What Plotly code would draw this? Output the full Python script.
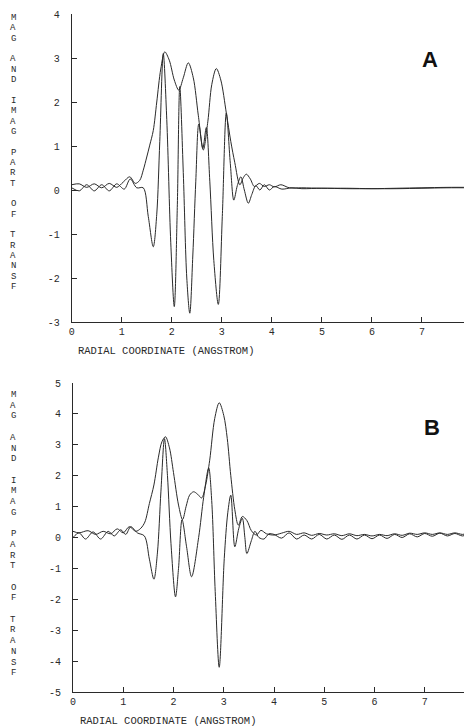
import plotly.graph_objects as go

# ---------------- data ----------------
# Panel A : magnitude (envelope) and imaginary part of the transform
r_mag_A = [0.00, 0.15, 0.30, 0.45, 0.60, 0.75, 0.90, 1.03, 1.16, 1.27, 1.36, 1.43, 1.50, 1.56, 1.63, 1.70, 1.78,
           1.86, 1.95, 2.05, 2.14, 2.23, 2.33, 2.43, 2.53, 2.63, 2.72, 2.80, 2.89, 2.98, 3.09, 3.18, 3.26,
           3.36, 3.43, 3.49, 3.57, 3.65, 3.75, 3.85, 3.95, 4.05, 4.18, 4.35, 4.60, 5.00, 5.50, 6.00, 6.50,
           7.00, 7.50, 8.00]
mag_A = [0.12, 0.14, 0.06, 0.14, 0.05, 0.15, 0.06, 0.18, 0.30, 0.15, 0.22, 0.45, 0.75, 1.02, 1.35, 2.00, 2.75,
         3.14, 2.95, 2.50, 2.27, 2.55, 2.89, 2.55, 1.70, 0.91, 1.55, 2.40, 2.76, 2.50, 1.75, 1.10, 0.62,
         0.12, 0.28, 0.36, 0.25, 0.08, 0.15, 0.08, 0.12, 0.07, 0.12, 0.05, 0.05, 0.04, 0.04, 0.03, 0.03,
         0.04, 0.05, 0.05]

r_im_A = [0.00, 0.15, 0.30, 0.45, 0.60, 0.75, 0.90, 1.05, 1.17, 1.30, 1.43, 1.53, 1.63, 1.70, 1.76, 1.83,
          1.90, 1.98, 2.05, 2.11, 2.16, 2.23, 2.30, 2.36, 2.42, 2.48, 2.54, 2.62, 2.69, 2.76, 2.84, 2.93,
          3.01, 3.09, 3.17, 3.24, 3.31, 3.38, 3.45, 3.53, 3.60, 3.68, 3.76, 3.85, 3.95, 4.05, 4.20, 4.40,
          4.60, 5.00, 5.50, 6.00, 6.50, 7.00, 7.50, 8.00]
im_A = [0.05, -0.02, 0.12, -0.02, 0.12, -0.02, 0.14, 0.02, 0.25, 0.05, 0.05, -0.60, -1.29, -0.55, 1.10, 3.10,
        1.60, -1.20, -2.65, -0.40, 2.35, 0.40, -2.00, -2.80, -1.50, 0.20, 1.50, 0.95, 1.42, 0.20, -1.60, -2.60,
        -0.60, 1.75, 0.60, -0.23, 0.10, 0.30, 0.00, -0.30, -0.10, 0.10, 0.00, 0.12, 0.00, 0.08, 0.02, 0.05,
        0.03, 0.04, 0.03, 0.03, 0.04, 0.05, 0.06, 0.06]

# Panel B
r_mag_B = [0.00, 0.12, 0.30, 0.45, 0.60, 0.75, 0.88, 1.00, 1.12, 1.25, 1.35, 1.43, 1.52, 1.61, 1.70, 1.77,
           1.84, 1.92, 2.00, 2.10, 2.18, 2.25, 2.32, 2.40, 2.48, 2.56, 2.64, 2.72, 2.82, 2.91, 3.00, 3.07,
           3.14, 3.22, 3.29, 3.37, 3.46, 3.55, 3.65, 3.74, 3.85, 4.00, 4.15, 4.30, 4.45, 4.60, 4.75, 4.90,
           5.05, 5.20, 5.35, 5.50, 5.65, 5.80, 5.95, 6.10, 6.25, 6.40, 6.55, 6.70, 6.85, 7.00, 7.15, 7.30,
           7.45, 7.60, 7.75, 7.90, 8.00]
mag_B = [0.20, 0.15, 0.22, 0.10, 0.20, 0.12, 0.28, 0.15, 0.35, 0.20, 0.30, 0.50, 1.10, 1.70, 2.60, 3.10,
         3.26, 2.90, 2.10, 1.05, 0.58, 1.00, 1.37, 1.48, 1.40, 1.28, 1.70, 2.50, 3.85, 4.36, 3.95, 3.20,
         2.00, 0.90, 0.40, 0.68, 0.55, 0.22, 0.08, 0.23, 0.12, 0.08, 0.14, 0.20, 0.10, 0.15, 0.07, 0.13,
         0.08, 0.12, 0.06, 0.12, 0.06, 0.10, 0.05, 0.10, 0.06, 0.12, 0.07, 0.14, 0.10, 0.15, 0.10, 0.15,
         0.10, 0.15, 0.10, 0.14, 0.12]

r_im_B = [0.00, 0.12, 0.25, 0.40, 0.55, 0.70, 0.82, 0.95, 1.05, 1.15, 1.28, 1.42, 1.52, 1.61, 1.68, 1.75,
          1.82, 1.88, 1.95, 2.04, 2.10, 2.17, 2.26, 2.36, 2.50, 2.60, 2.70, 2.76, 2.83, 2.91, 3.01, 3.08,
          3.14, 3.22, 3.30, 3.37, 3.42, 3.46, 3.55, 3.62, 3.70, 3.80, 3.90, 4.00, 4.15, 4.30, 4.45, 4.60,
          4.75, 4.90, 5.05, 5.20, 5.35, 5.50, 5.65, 5.80, 5.95, 6.10, 6.25, 6.40, 6.55, 6.70, 6.85, 7.00,
          7.15, 7.30, 7.45, 7.60, 7.75, 7.90, 8.00]
im_B = [0.00, 0.15, -0.05, 0.18, -0.05, 0.20, 0.05, 0.25, 0.10, 0.35, 0.15, 0.05, -0.70, -1.35, -0.50, 1.50,
        3.20, 2.00, -0.20, -1.92, -1.00, 0.58, -0.30, -1.27, 0.00, 1.30, 2.25, 1.20, -1.75, -4.20, -0.68, 0.80,
        1.37, -0.30, 0.30, 0.62, 0.00, -0.52, -0.10, 0.20, 0.00, -0.05, 0.12, 0.10, -0.02, 0.15, -0.05, 0.08,
        -0.05, 0.10, -0.05, 0.08, -0.06, 0.08, -0.05, 0.08, -0.04, 0.08, -0.03, 0.10, 0.00, 0.12, 0.02, 0.13,
        0.04, 0.14, 0.05, 0.13, 0.05, 0.12, 0.08]

x_ticks = [0, 1, 2, 3, 4, 5, 6, 7, 8]
y_ticks_A = [-3, -2, -1, 0, 1, 2, 3, 4]
y_ticks_B = [-5, -4, -3, -2, -1, 0, 1, 2, 3, 4, 5]
x_title = "RADIAL COORDINATE (ANGSTROM)"
y_title = "MAG AND IMAG PART OF TRANSF"
panel_labels = ["A", "B"]

# ---------------- figure ----------------
# page body has an 8px margin, so the figure is laid out in window pixels minus 8
OFF = 8
W, H = 464, 720
def px(x):
    return (x - OFF) / W
def py(y):
    return 1 - (y - OFF) / H

INK = "#2a2a2a"
MONO = "Liberation Mono, DejaVu Sans Mono, monospace"

fig = go.Figure()
line_style = dict(color=INK, width=1, shape="spline", smoothing=0.9)
fig.add_trace(go.Scatter(x=r_mag_A, y=mag_A, mode="lines", line=line_style, xaxis="x", yaxis="y", showlegend=False))
fig.add_trace(go.Scatter(x=r_im_A, y=im_A, mode="lines", line=line_style, xaxis="x", yaxis="y", showlegend=False))
fig.add_trace(go.Scatter(x=r_mag_B, y=mag_B, mode="lines", line=line_style, xaxis="x2", yaxis="y2", showlegend=False))
fig.add_trace(go.Scatter(x=r_im_B, y=im_B, mode="lines", line=line_style, xaxis="x2", yaxis="y2", showlegend=False))

axis_common = dict(showgrid=False, zeroline=False, showline=True, linecolor=INK, linewidth=1,
                   ticks="inside", ticklen=5, tickcolor=INK, tickwidth=1,
                   tickfont=dict(family=MONO, size=10, color=INK), automargin=False)

fig.update_layout(
    width=W, height=H,
    margin=dict(l=0, r=0, t=0, b=0, pad=0),
    paper_bgcolor="white", plot_bgcolor="white",
    xaxis=dict(domain=[px(71.7), 1.0], range=[0, 8], anchor="y",
               tickvals=x_ticks, ticktext=[str(v) for v in x_ticks], **axis_common),
    yaxis=dict(domain=[py(322), py(14)], range=[-3, 4], anchor="x",
               tickvals=y_ticks_A, ticktext=[str(v) for v in y_ticks_A], ticklabelstandoff=9, **axis_common),
    xaxis2=dict(domain=[px(73), 1.0], range=[0, 7.94], anchor="y2",
                tickvals=x_ticks, ticktext=[str(v) for v in x_ticks], **axis_common),
    yaxis2=dict(domain=[py(692), py(383)], range=[-5, 5], anchor="x2",
                tickvals=y_ticks_B, ticktext=[str(v) for v in y_ticks_B], ticklabelstandoff=9, **axis_common),
)

ann = []
# x-axis titles
for ypix, xpix in [(351, 76), (721, 78)]:
    ann.append(dict(x=px(xpix), y=py(ypix), xref="paper", yref="paper", xanchor="left", yanchor="middle",
                    text=x_title, showarrow=False, font=dict(family=MONO, size=10.5, color=INK)))
# vertical stacked y titles
for start, step in [(18, 10.35), (395, 10.7)]:
    for i, ch in enumerate(y_title):
        if ch == " ":
            continue
        ann.append(dict(x=px(13), y=py(start + i * step), xref="paper", yref="paper",
                        xanchor="center", yanchor="middle", text=ch, showarrow=False,
                        font=dict(family=MONO, size=9, color=INK)))
# panel letters
for lab, (xpix, ypix) in zip(panel_labels, [(430, 60), (432, 427)]):
    ann.append(dict(x=px(xpix), y=py(ypix), xref="paper", yref="paper", xanchor="center", yanchor="middle",
                    text="<b>%s</b>" % lab, showarrow=False,
                    font=dict(family="Liberation Sans, Arial, sans-serif", size=22, color="#111")))
fig.update_layout(annotations=ann)

fig.write_html("out.html")
